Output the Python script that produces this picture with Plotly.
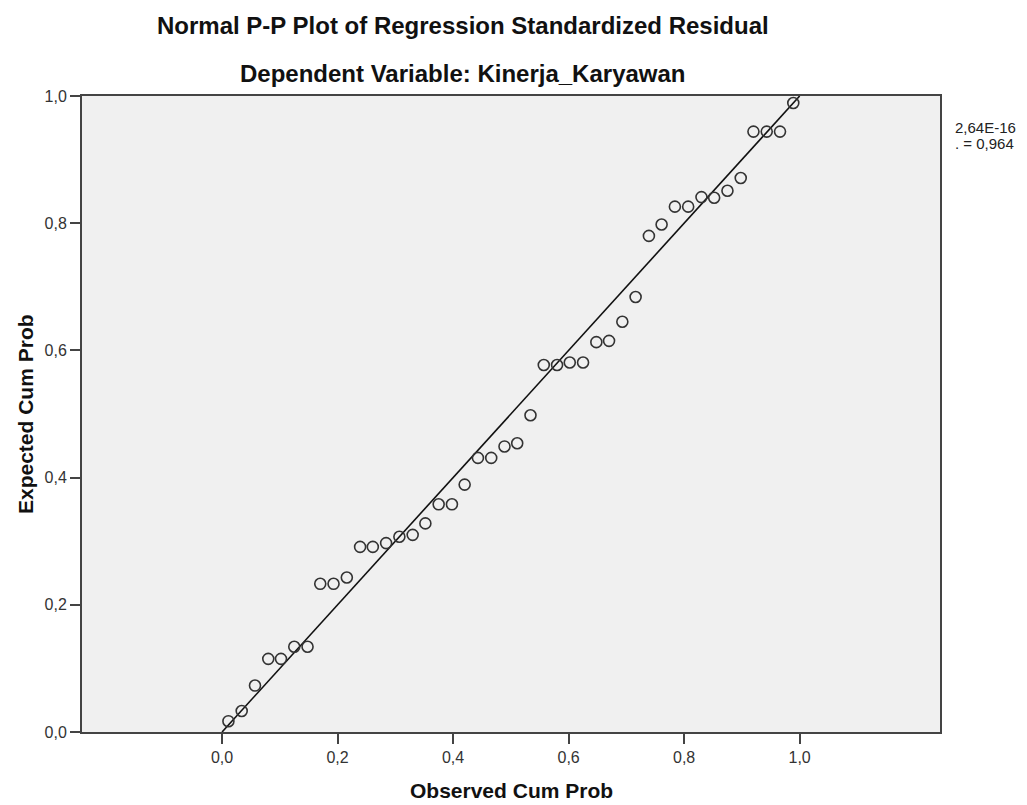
import plotly.graph_objects as go

# Observed cumulative probability (x) and expected cumulative probability (y)
observed_cum_prob = [0.011, 0.034, 0.057, 0.080, 0.102, 0.125, 0.148, 0.170, 0.193, 0.216,
                     0.239, 0.261, 0.284, 0.307, 0.330, 0.352, 0.375, 0.398, 0.420, 0.443,
                     0.466, 0.489, 0.511, 0.534, 0.557, 0.580, 0.602, 0.625, 0.648, 0.670,
                     0.693, 0.716, 0.739, 0.761, 0.784, 0.807, 0.830, 0.852, 0.875, 0.898,
                     0.920, 0.943, 0.966, 0.989]
expected_cum_prob = [0.017, 0.033, 0.073, 0.115, 0.115, 0.134, 0.134, 0.233, 0.233, 0.243,
                     0.291, 0.291, 0.297, 0.307, 0.310, 0.328, 0.358, 0.358, 0.389, 0.431,
                     0.431, 0.449, 0.454, 0.498, 0.577, 0.577, 0.581, 0.581, 0.613, 0.615,
                     0.645, 0.684, 0.780, 0.798, 0.826, 0.826, 0.841, 0.840, 0.851, 0.871,
                     0.944, 0.944, 0.944, 0.989]
reference_line = [0.0, 1.0]

tick_vals = [0.0, 0.2, 0.4, 0.6, 0.8, 1.0]
tick_labels = ["0,0", "0,2", "0,4", "0,6", "0,8", "1,0"]

title_main = "Normal P-P Plot of Regression Standardized Residual"
title_sub = "Dependent Variable: Kinerja_Karyawan"
x_title = "Observed Cum Prob"
y_title = "Expected Cum Prob"
stats_lines = ["2,64E-16", ". = 0,964"]

# The page body adds an 8px offset; the figure is sized to fill the rest of the window.
OFF = 8
W, H = 1027 - OFF, 805 - OFF
L, T = 82 - OFF, 96 - OFF
R = W - (940 - OFF)
B = H - (732 - OFF)
plot_h = H - T - B
plot_w = W - L - R

fig = go.Figure()
fig.add_trace(go.Scatter(x=reference_line, y=reference_line, mode="lines",
                         line=dict(color="#111111", width=1.6),
                         hoverinfo="skip", showlegend=False))
fig.add_trace(go.Scatter(x=observed_cum_prob, y=expected_cum_prob, mode="markers",
                         marker=dict(symbol="circle-open", size=11, color="#333333",
                                     line=dict(width=1.6, color="#333333")),
                         showlegend=False, cliponaxis=False))

arial = "Liberation Sans, Arial, sans-serif"

fig.update_layout(
    width=W, height=H,
    margin=dict(l=L, r=R, t=T, b=B),
    paper_bgcolor="white",
    plot_bgcolor="#f0f0f0",
    showlegend=False,
    font=dict(family=arial, size=16, color="#333333"),
)
axis_common = dict(tickvals=tick_vals, ticktext=tick_labels,
                   ticks="outside", ticklen=10, tickwidth=2, tickcolor="#444444",
                   showline=True, linecolor="#444444", linewidth=2, mirror=True,
                   showgrid=False, zeroline=False,
                   tickfont=dict(family=arial, size=16, color="#333333"))
fig.update_xaxes(range=[-0.2425, 1.243], **axis_common)
fig.update_yaxes(range=[0, 1], **axis_common)


def py(pixel_y):
    # reference pixel y -> paper y
    return (H - B - (pixel_y - OFF)) / plot_h


def px(pixel_x):
    # reference pixel x -> paper x
    return (pixel_x - OFF - L) / plot_w


ann = []
ann.append(dict(text="<b>" + title_main + "</b>", x=px(463), y=py(26), xref="paper", yref="paper",
                xanchor="center", yanchor="middle", showarrow=False,
                font=dict(family=arial, size=24, color="#111111")))
ann.append(dict(text="<b>" + title_sub + "</b>", x=px(463), y=py(74), xref="paper", yref="paper",
                xanchor="center", yanchor="middle", showarrow=False,
                font=dict(family=arial, size=24, color="#111111")))
ann.append(dict(text="<b>" + x_title + "</b>", x=px(511), y=py(790), xref="paper", yref="paper",
                xanchor="center", yanchor="middle", showarrow=False,
                font=dict(family=arial, size=21, color="#111111")))
ann.append(dict(text="<b>" + y_title + "</b>", x=px(25), y=py(414), xref="paper", yref="paper",
                xanchor="center", yanchor="middle", showarrow=False, textangle=-90,
                font=dict(family=arial, size=21, color="#111111")))
for i, line in enumerate(stats_lines):
    ann.append(dict(text=line, x=px(953), y=py(127 + 16 * i), xref="paper", yref="paper",
                    xanchor="left", yanchor="middle", showarrow=False,
                    font=dict(family=arial, size=15, color="#222222")))
fig.update_layout(annotations=ann)

fig.write_html("out.html")
